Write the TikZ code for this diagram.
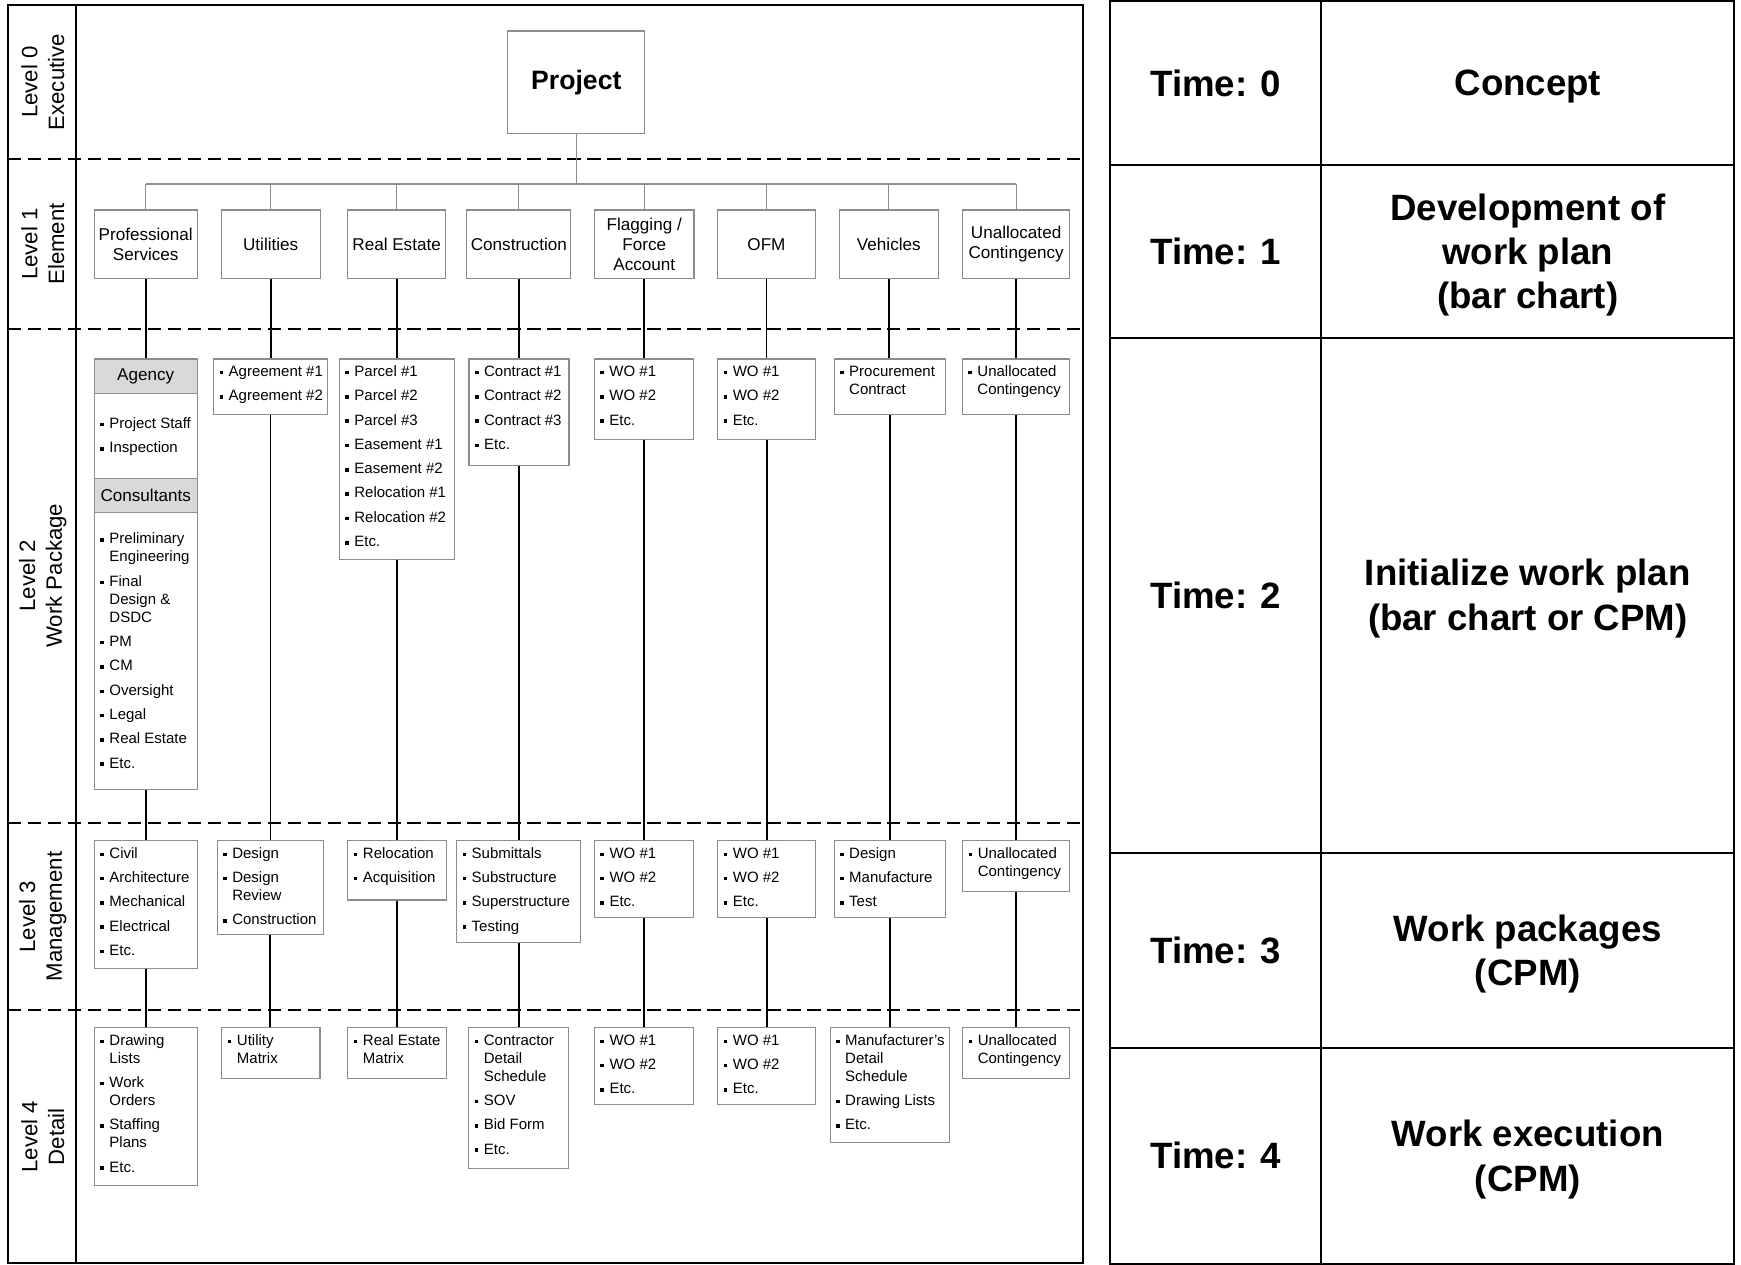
\documentclass[tikz,border=0pt]{standalone}
\usepackage{fontspec}
\setmainfont{Liberation Sans}
\usetikzlibrary{fit}
\definecolor{boxline}{gray}{0.55}
\definecolor{hdrfill}{gray}{0.85}
\newcommand\bu{\makebox[4.1pt][l]{\rule[0.95pt]{1.6pt}{1.6pt}}}
\newcommand\ci{\hspace*{4.1pt}}
\newcommand\fs{\rule{0pt}{7.9pt}}
\newcommand\isep{\\[2.85pt]}
\tikzset{
  frame/.style={draw=black, line width=0.9pt},
  lvl/.style={rotate=90, align=center, font=\fontsize{10}{12}\selectfont},
  wb/.style={draw=boxline, line width=0.5pt, inner sep=0pt, fill=white},
  hdr/.style={wb, fill=hdrfill},
  l1txt/.style={inner sep=0pt, align=center, font=\fontsize{7.7}{9}\selectfont},
  items/.style={anchor=north west, inner sep=0pt, align=left, font=\fontsize{6.75}{8.1}\selectfont},
  conn/.style={draw=black, line width=0.85pt},
  bus/.style={draw=boxline, line width=0.5pt},
  lvlsep/.style={draw=black, line width=0.9pt, dash pattern=on 6pt off 3pt},
  cell/.style={draw=black, line width=0.9pt, inner sep=0pt},
  celltxt/.style={inner sep=0pt, align=center, font=\fontsize{16.5}{20}\selectfont\bfseries},
  celltxtr/.style={celltxt, yshift=-1.6pt},
}
% box with bulleted items, top aligned
\newcommand\ibox[6]{%
  \node[wb, fit={(#2,#3) (#4,#5)}] (#1) {};
  \node[items] (#1t) at ([xshift=2.75pt]#1.north west) {\fs#6};
}
% box with centred text: name, x1, y1, x2, y2, box style, text style, text
\newcommand\cbox[8]{%
  \node[#6, fit={(#2,#3) (#4,#5)}] (#1) {};
  \node[#7] (#1t) at (#1.center) {#8};
}
\begin{document}
\begin{tikzpicture}[x=0.5pt,y=-0.5pt]
\path[use as bounding box, fill=white] (0,0) rectangle (1568,1139);

% ---------- WBS frame ----------
\draw[frame] (7,4.5) rectangle (975.5,1137.5);
\draw[frame] (68.5,4.5) -- (68.5,1137.5);
\foreach \yy in {143.5,296,741,910}
  \draw[lvlsep] (7,\yy) -- (975.5,\yy);

% ---------- level labels ----------
\node[lvl] (lv0) at (38.5,74) {Level 0\\Executive};
\node[lvl] (lv1) at (38.5,219.75) {Level 1\\Element};
\node[lvl] (lv2) at (38.5,518.5) {Level 2\\Work Package};
\node[lvl] (lv3) at (38.5,825.5) {Level 3\\Management};
\node[lvl] (lv4) at (38.5,1023.75) {Level 4\\Detail};

% ---------- level 0 ----------
\cbox{proj}{457.4}{27.9}{580.7}{120.1}{wb}{inner sep=0pt, font=\fontsize{12}{14}\selectfont\bfseries}{Project}

% ---------- level 1 ----------
\cbox{e1}{85}{189.1}{177.5}{250.7}{wb}{l1txt}{Professional\\Services}
\cbox{e2}{199.3}{189.1}{288.3}{250.7}{wb}{l1txt}{Utilities}
\cbox{e3}{312.8}{189.1}{401.6}{250.7}{wb}{l1txt}{Real Estate}
\cbox{e4}{420.4}{189.1}{514.2}{250.7}{wb}{l1txt}{Construction}
\cbox{e5}{535.5}{189.1}{625}{250.7}{wb}{l1txt}{Flagging /\\Force\\Account}
\cbox{e6}{646}{189.1}{734.6}{250.7}{wb}{l1txt}{OFM}
\cbox{e7}{756}{189.1}{845}{250.7}{wb}{l1txt}{Vehicles}
\cbox{e8}{867}{189.1}{963.3}{250.7}{wb}{l1txt}{Unallocated\\Contingency}

% ---------- level 2 ----------
\cbox{psa}{85}{323.3}{177.5}{354.3}{hdr}{l1txt}{Agency}
\node[wb, fit={(85,354.3) (177.5,430.8)}] (psab) {};
\node[items] (psabt) at ([xshift=2.75pt,yshift=-8pt]psab.north west)
  {\fs\bu Project Staff\isep\bu Inspection};
\cbox{psc}{85}{430.8}{177.5}{461.8}{hdr}{l1txt}{Consultants}
\node[wb, fit={(85,461.8) (177.5,711)}] (pscb) {};
\node[items] (pscbt) at ([xshift=2.75pt,yshift=-6.2pt]pscb.north west)
  {\fs\bu Preliminary\\\ci Engineering\isep\bu Final\\\ci Design \&\\\ci DSDC\isep\bu PM\isep\bu CM\isep\bu Oversight\isep\bu Legal\isep\bu Real Estate\isep\bu Etc.};
\ibox{ut2}{192.4}{323.3}{294.8}{373.2}{\bu Agreement \#1\isep\bu Agreement \#2}
\ibox{re2}{305.6}{323.3}{409.5}{503.5}{\bu Parcel \#1\isep\bu Parcel \#2\isep\bu Parcel \#3\isep\bu Easement \#1\isep\bu Easement \#2\isep\bu Relocation \#1\isep\bu Relocation \#2\isep\bu Etc.}
\ibox{co2}{422.4}{323.3}{512.5}{419}{\bu Contract \#1\isep\bu Contract \#2\isep\bu Contract \#3\isep\bu Etc.}
\ibox{fl2}{535.3}{323.3}{624.6}{395.7}{\bu WO \#1\isep\bu WO \#2\isep\bu Etc.}
\ibox{of2}{646.4}{323.3}{734.6}{395.7}{\bu WO \#1\isep\bu WO \#2\isep\bu Etc.}
\ibox{ve2}{751.2}{323.3}{851.4}{373.2}{\bu Procurement\\\ci Contract}
\ibox{un2}{866.7}{323.3}{963}{373.2}{\bu Unallocated\\\ci Contingency}

% ---------- level 3 ----------
\ibox{ps3}{85}{757.2}{177.5}{872.1}{\bu Civil\isep\bu Architecture\isep\bu Mechanical\isep\bu Electrical\isep\bu Etc.}
\ibox{ut3}{195.6}{757.2}{291.4}{841.5}{\bu Design\isep\bu Design\\\ci Review\isep\bu Construction}
\ibox{re3}{313.3}{757.2}{401.8}{810.6}{\bu Relocation\isep\bu Acquisition}
\ibox{co3}{411.2}{757.2}{522.9}{848.7}{\bu Submittals\isep\bu Substructure\isep\bu Superstructure\isep\bu Testing}
\ibox{fl3}{535.4}{757.2}{624.8}{826.2}{\bu WO \#1\isep\bu WO \#2\isep\bu Etc.}
\ibox{of3}{646.5}{757.2}{734.7}{826.2}{\bu WO \#1\isep\bu WO \#2\isep\bu Etc.}
\ibox{ve3}{751.2}{757.2}{851.2}{826.2}{\bu Design\isep\bu Manufacture\isep\bu Test}
\ibox{un3}{867}{757.2}{963.3}{802.8}{\bu Unallocated\\\ci Contingency}

% ---------- level 4 ----------
\ibox{ps4}{85}{925.6}{177.5}{1067.3}{\bu Drawing\\\ci Lists\isep\bu Work\\\ci Orders\isep\bu Staffing\\\ci Plans\isep\bu Etc.}
\ibox{ut4}{199.8}{925.6}{288.2}{971.2}{\bu Utility\\\ci Matrix}
\ibox{re4}{313.3}{925.6}{401.8}{971.2}{\bu Real Estate\\\ci Matrix}
\ibox{co4}{422.2}{925.6}{512.3}{1052.3}{\bu Contractor\\\ci Detail\\\ci Schedule\isep\bu SOV\isep\bu Bid Form\isep\bu Etc.}
\ibox{fl4}{535.4}{925.6}{624.8}{994.6}{\bu WO \#1\isep\bu WO \#2\isep\bu Etc.}
\ibox{of4}{646.5}{925.6}{734.7}{994.6}{\bu WO \#1\isep\bu WO \#2\isep\bu Etc.}
\ibox{ve4}{747.6}{925.6}{854.9}{1028.8}{\bu Manufacturer’s\\\ci Detail\\\ci Schedule\isep\bu Drawing Lists\isep\bu Etc.}
\ibox{un4}{867}{925.6}{963.3}{971.2}{\bu Unallocated\\\ci Contingency}

% ---------- project bus ----------
\coordinate (busy) at (0,165.7);
\draw[bus] (proj.south) -- (proj.south |- busy);
\draw[bus] (e1.north |- busy) -- (e8.north |- busy);
\foreach \n in {e1,e2,e3,e4,e5,e6,e7,e8}
  \draw[bus] (\n.north) -- (\n.north |- busy);

% ---------- vertical connectors ----------
\draw[conn] (e1.south) -- (e1.south |- psa.north);
\draw[conn] (e2.south) -- (e2.south |- ut2.north);
\draw[conn] (e3.south) -- (e3.south |- re2.north);
\draw[conn] (e4.south) -- (e4.south |- co2.north);
\draw[conn] (e5.south) -- (e5.south |- fl2.north);
\draw[conn] (e6.south) -- (e6.south |- of2.north);
\draw[conn] (e7.south) -- (e7.south |- ve2.north);
\draw[conn] (e8.south) -- (e8.south |- un2.north);

\draw[conn] (pscb.south) -- (pscb.south |- ps3.north);
\draw[conn] (ut2.south) -- (ut2.south |- ut3.north);
\draw[conn] (re2.south) -- (re2.south |- re3.north);
\draw[conn] (co2.south) -- (co2.south |- co3.north);
\draw[conn] (fl2.south) -- (fl2.south |- fl3.north);
\draw[conn] (of2.south) -- (of2.south |- of3.north);
\draw[conn] (ve2.south) -- (ve2.south |- ve3.north);
\draw[conn] (un2.south) -- (un2.south |- un3.north);

\draw[conn] (ps3.south) -- (ps3.south |- ps4.north);
\draw[conn] (ut3.south) -- (ut3.south |- ut4.north);
\draw[conn] (re3.south) -- (re3.south |- re4.north);
\draw[conn] (co3.south) -- (co3.south |- co4.north);
\draw[conn] (fl3.south) -- (fl3.south |- fl4.north);
\draw[conn] (of3.south) -- (of3.south |- of4.north);
\draw[conn] (ve3.south) -- (ve3.south |- ve4.north);
\draw[conn] (un3.south) -- (un3.south |- un4.north);

% ---------- time table ----------
\cbox{t0a}{1000}{1}{1190}{149}{cell}{celltxt}{Time: 0}
\cbox{t0b}{1190}{1}{1562}{149}{cell}{celltxtr}{Concept}
\cbox{t1a}{1000}{149}{1190}{304}{cell}{celltxt}{Time: 1}
\cbox{t1b}{1190}{149}{1562}{304}{cell}{celltxtr}{Development of\\work plan\\(bar chart)}
\cbox{t2a}{1000}{304}{1190}{768}{cell}{celltxt}{Time: 2}
\cbox{t2b}{1190}{304}{1562}{768}{cell}{celltxtr}{Initialize work plan\\(bar chart or CPM)}
\cbox{t3a}{1000}{768}{1190}{944}{cell}{celltxt}{Time: 3}
\cbox{t3b}{1190}{768}{1562}{944}{cell}{celltxtr}{Work packages\\(CPM)}
\cbox{t4a}{1000}{944}{1190}{1138}{cell}{celltxt}{Time: 4}
\cbox{t4b}{1190}{944}{1562}{1138}{cell}{celltxtr}{Work execution\\(CPM)}
\end{tikzpicture}
\end{document}
